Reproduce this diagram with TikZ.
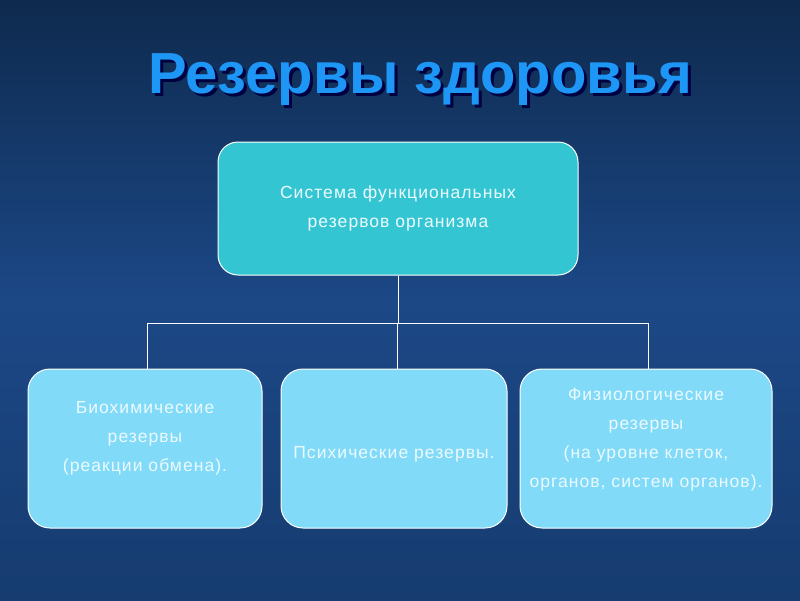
\documentclass[tikz,border=0pt]{standalone}
\usepackage{fontspec}
\setmainfont{Liberation Sans}
\newfontfamily\boxfont[LetterSpace=6]{Liberation Sans}
\definecolor{bgtop}{RGB}{14,42,78}
\definecolor{bgmid}{RGB}{28,72,134}
\definecolor{bgbot}{RGB}{22,60,112}
\definecolor{titleblue}{RGB}{30,150,245}
\definecolor{teal}{RGB}{51,198,210}
\definecolor{sky}{RGB}{128,218,248}
\definecolor{boxtext}{RGB}{236,250,255}
\tikzset{
  topbox/.style={draw=white, line width=1pt, fill=teal, rounded corners=20pt, minimum width=360pt, minimum height=133pt},
  lowbox/.style={draw=white, line width=1pt, fill=sky, rounded corners=22pt, minimum height=159pt},
  boxlabel/.style={text=boxtext, align=center, font=\boxfont\fontsize{17.5}{29}\selectfont},
  wire/.style={draw=white, line width=1pt}
}
\begin{document}
\begin{tikzpicture}[x=1pt,y=-1pt]
\useasboundingbox (0,0) rectangle (800,600);
\shade[top color=bgtop, bottom color=bgmid] (0,0) rectangle (800,300);
\shade[top color=bgmid, bottom color=bgbot] (0,300) rectangle (800,600);
% title
\node[text=black!75!blue, font=\fontsize{58}{66}\bfseries\selectfont] (shadow) at (423,83) {Резервы здоровья};
\node[text=titleblue, font=\fontsize{58}{66}\bfseries\selectfont] (title) at (420,80) {Резервы здоровья};
% boxes
\node[topbox] (top) at (398,208.5) {};
\node[lowbox, minimum width=234pt] (bio) at (145,448.5) {};
\node[lowbox, minimum width=226pt] (psy) at (394,448.5) {};
\node[lowbox, minimum width=252pt] (phy) at (646,448.5) {};
\node[boxlabel] (toplab) at (top.center) {Система функциональных\\резервов организма};
\node[boxlabel] (biolab) at ([yshift=10pt]bio.center) {Биохимические\\резервы\\(реакции обмена).};
\node[boxlabel] (psylab) at ([yshift=-6pt]psy.center) {Психические резервы.};
\node[boxlabel] (phylab) at ([yshift=8.5pt]phy.center) {Физиологические\\резервы\\(на уровне клеток,\\органов, систем органов).};
% connectors
\coordinate (hub) at (397,323);
\coordinate (hl) at (147,323);
\coordinate (hr) at (648,323);
\draw[wire] (top.south) -- (top.south |- hub);
\draw[wire] (hl) -- (hr);
\draw[wire] (hl) -- (hl |- bio.north);
\draw[wire] (hub) -- (hub |- psy.north);
\draw[wire] (hr) -- (hr |- phy.north);
\end{tikzpicture}
\end{document}
